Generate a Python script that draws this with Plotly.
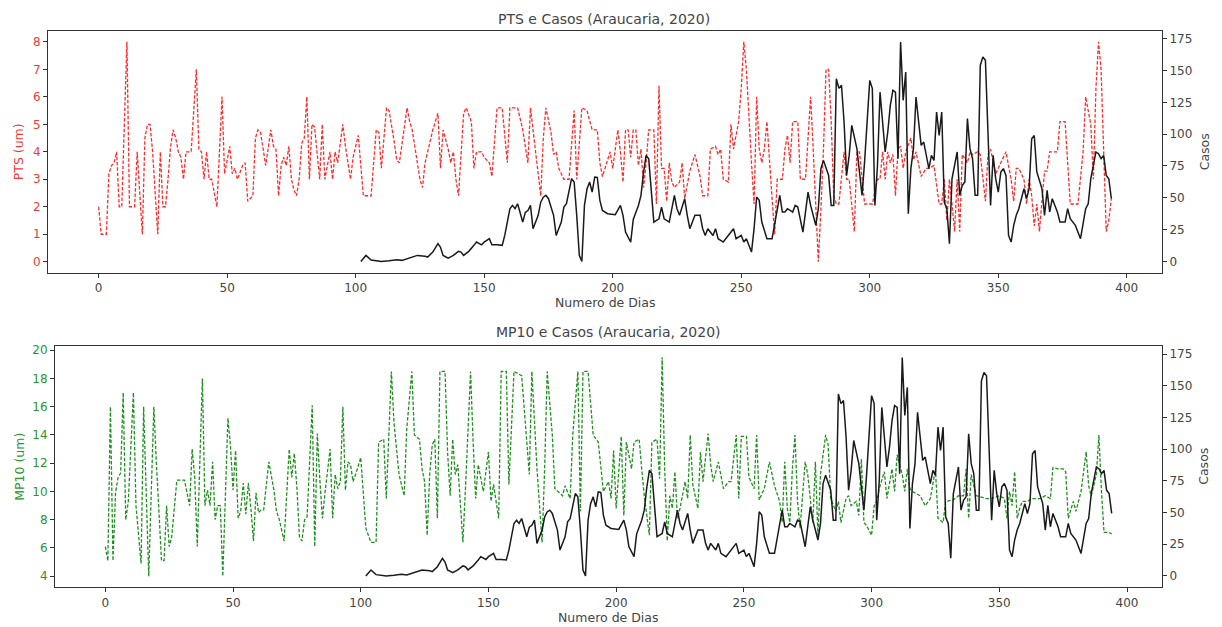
import plotly.graph_objects as go

# ---------------- data ----------------
pts_days = [0,1,3,4,5,6,7,8,9,11,
    12,14,15,17,18,19,20,21,23,24,
    25,26,27,28,29,30,31,32,33,34,
    36,38,39,40,41,42,43,44,46,48,
    49,51,52,53,54,56,57,58,60,61,
    62,63,65,67,68,69,70,71,72,73,
    74,75,76,77,78,79,80,81,82,83,
    84,86,87,88,90,91,92,93,95,96,
    98,99,101,103,106,108,109,110,112,113,
    115,116,117,120,121,122,124,125,126,127,
    128,130,132,133,134,136,137,138,139,140,
    142,143,145,146,147,149,150,152,153,155,
    157,159,160,163,165,167,168,169,171,172,
    173,174,176,177,178,179,181,183,185,186,
    188,190,192,194,195,196,197,199,200,202,
    203,204,205,206,207,208,209,210,211,212,
    213,214,216,217,218,219,220,221,222,223,
    224,226,227,228,230,231,232,234,235,237,
    238,240,241,242,243,245,246,247,249,250,
    251,252,253,254,255,256,257,258,259,260,
    262,263,264,266,267,268,269,270,272,273,
    275,277,278,279,280,281,282,283,284,285,
    286,287,288,290,291,292,294,295,296,298,
    301,303,304,305,306,307,308,309,310,311,
    312,313,314,316,317,318,319,320,322,323,
    325,327,328,329,330,331,332,333,334,335,
    336,338,339,340,342,343,345,346,347,349,
    351,353,354,355,356,357,358,360,361,362,
    363,364,365,366,368,369,370,371,373,374,
    375,376,378,379,381,383,384,386,387,388,
    389,390,391,392,393,394]
pts_vals = [2,1,1,3.2,3.5,3.6,4,2,2,8,
    2,2,4,1,4.5,5,5,4,1,4,
    2,2,3,4.2,4.8,4.5,4,3.8,3,4,
    4,7,4.1,4,3,4,3,3,2,6,
    3.2,4.2,3.2,3.4,3,3.5,3.6,2.2,2.4,4.5,
    4.8,4.7,3.5,4.8,4.2,4.1,2.4,3.5,3.8,3.5,
    4.2,3,2.6,2.4,3,4.3,4.5,6,3,5,
    4.9,3,5,3,4,3,4,3.6,5,4.2,
    3,3.8,4.6,2.4,2.4,4.8,4.7,3.4,5.6,5.5,
    4.35,3.7,3.6,5.6,5.1,4.8,3.6,3,2.7,3.6,
    4,4.8,5.4,3.4,4.8,4.1,3.6,4,3,2.4,
    5.4,5.6,5.1,3.4,4,4,3.8,3.6,3.1,5.6,
    5.6,3.6,5.6,5.6,4.8,3.6,5.6,4.8,3,2.4,
    4.5,5.6,4.7,3.9,4,3.4,3,3,5.5,3,
    5.6,5.5,4.8,4.8,3.6,3.1,3.4,4,3.4,4.8,
    4,2.9,4.8,4.8,3.8,4.8,4.8,3.5,4.1,2.7,
    3.6,4.8,4.8,2.1,6.4,3.4,3.4,2.2,3.6,2.9,
    2.7,2.9,3.6,2.3,3.3,3.6,3.9,3.1,2.4,2.4,
    4.1,4.2,3.9,4.1,3,2.9,5,4.1,5.1,6.3,
    8,7,5.1,3.6,2.1,6,4.1,3.6,4.1,5.1,
    2.3,1,3,3,4.1,4.6,3.6,5.1,5.1,3,
    3,6,4.1,2.3,0,1.9,4.1,7,7,5.1,
    2.4,2.1,2.1,4,3,3,1.1,4,4,2.1,
    2.1,3,3,4,3,4,3.6,3.9,2.4,4.1,
    4.2,3.4,4,4.5,3.7,4,3.5,3.1,3.4,3.4,
    3.5,2.1,2.1,3,1.5,3,2.1,1.1,3,1.1,
    3.9,3.6,4,3.9,4,3.9,2.2,3.9,4.1,3.2,
    3.6,4,3.5,3,2.2,3.4,3.4,3,2.1,3,
    2.4,1.3,2.1,1.1,3.3,3.3,4,4,4,5.1,
    5.1,5.1,2.1,2.1,2.1,4,6,5,3,6.3,
    8,7,3.6,1.1,1.5,2.3]

casos_days = [102,104,106,110,113,116,118,121,124,127,
    128,130,132,133,134,136,138,140,141,142,
    144,146,147,149,150,152,153,155,157,158,
    160,161,162,163,165,166,167,168,169,171,
    172,173,174,175,177,178,180,181,182,184,
    185,186,187,188,189,190,191,192,193,194,
    195,196,198,201,203,204,205,207,208,210,
    211,212,213,214,215,216,218,219,220,222,
    224,225,226,228,229,230,232,234,235,236,
    237,239,240,241,243,245,247,248,250,251,
    252,254,255,256,257,258,260,262,263,264,
    265,266,267,268,270,271,272,274,275,276,
    277,279,280,281,282,284,285,286,287,288,
    289,290,291,292,293,295,297,298,300,301,
    302,303,304,306,307,308,309,310,311,312,
    313,314,315,316,317,318,319,320,321,322,
    323,324,325,326,327,328,329,330,331,332,
    334,335,336,337,338,339,340,341,342,343,
    344,345,346,347,348,349,350,351,352,353,
    354,355,356,357,358,360,361,362,363,364,
    365,367,368,369,370,371,373,374,376,377,
    378,380,382,384,385,386,388,389,390,391,
    392,393,394]
casos_vals = [0,4.7,1,0,0.5,1.3,0.8,2.6,4.7,4,
    3.4,7.3,13.9,11,4.7,2.6,4.7,7.9,7.3,4.7,
    7.9,12.6,15.2,13,15.2,17.8,13,13,12.6,20.4,
    41.4,44,41.4,45.3,30.9,38.5,40,44,25.7,36.2,
    46.5,50.5,51.9,49.3,36.2,20.4,30.9,42.7,45.3,65,
    62.4,36.2,4.7,0,44,57,62.4,54.5,66.3,66,
    48,40,37.5,36.7,44,36.2,23,15.2,33,44,
    51.9,70,83.3,80.7,57,30.9,33.5,42.7,33.5,30.9,
    51.9,41.4,36.2,49.3,36.2,25.7,36.2,36.2,25.7,20.4,
    25.7,20.4,25.7,17.8,15.2,20.4,25.7,17.8,20.4,15.2,
    17.8,7.3,25.7,50.6,48,30.9,17.8,17.8,28.3,41.4,
    51.9,38.8,38.8,41.4,38.8,44,42.7,23,41.4,54.5,
    44,28.3,41.4,72.9,79.4,67.6,44,44,143.6,136,
    138.4,110,67.6,83.3,106.9,88.6,51.9,78.6,142.3,136,
    44,75,133,86,101.5,122.6,134.4,133,80.7,172.4,
    126.6,148.8,37.5,72.9,88.6,129.2,110,91.2,93.8,83.3,
    72.9,83.3,79.4,117.4,99,117.4,46.5,41.4,13.9,64.8,
    86,51.9,59.7,62.4,112.2,88.6,80.7,51.9,51.9,154,
    160.6,158,101.5,44,83.3,65,54.5,70.3,72.9,67.6,
    20.4,15.2,28.3,36.2,41.4,57.1,49.3,57.1,96.4,99,
    70.3,57.1,36.2,55.8,38.8,49.3,38.8,30.9,30.9,41.4,
    33.5,28.3,17.8,41.4,45.3,65,86,84.6,80.7,83.3,
    67.6,65,49.3]

mp10_days = [0,1,2,3,4,5,6,7,8,9,
    11,12,14,15,17,19,20,22,23,24,
    25,26,28,31,33,34,35,36,38,39,
    40,41,42,43,44,45,46,48,49,50,
    51,52,53,54,55,56,57,58,59,60,
    61,62,64,66,67,68,70,72,73,74,
    75,76,77,78,79,81,82,83,84,85,
    86,88,89,90,91,92,93,94,95,96,
    97,98,100,101,102,104,106,107,109,110,
    111,112,113,115,117,118,120,121,123,124,
    125,126,127,128,129,130,131,133,134,135,
    136,137,138,140,141,143,144,145,146,148,
    150,151,152,154,155,157,158,160,163,165,
    166,167,169,171,172,173,175,176,179,180,
    182,183,185,186,187,189,191,193,195,197,
    198,199,200,202,203,204,206,207,209,210,
    211,213,214,216,217,218,219,220,221,222,
    223,224,225,227,228,229,230,232,233,234,
    236,237,238,240,241,242,244,245,247,248,
    249,251,252,254,255,256,258,260,262,264,
    265,266,267,268,269,270,271,272,274,275,
    277,278,279,280,282,283,284,286,287,288,
    290,291,292,294,295,296,297,298,300,301,
    302,303,305,306,308,309,310,312,313,314,
    315,316,319,321,323,325,326,328,329,332,
    334,336,337,338,339,341,343,345,347,350,
    352,353,354,355,356,357,358,359,361,363,
    366,368,370,371,373,375,376,377,379,380,
    382,384,385,386,388,389,390,391,393,394]
mp10_vals = [6.1,5.1,16,5.1,9.9,11,11.3,17,8,9.3,
    17,9,4.9,16,4,16,12,5.1,5.1,9,
    6.1,6.8,10.8,10.8,9,13,11,6.1,18,9,
    10.1,9,12.1,8,9,9,4,15.2,13.2,10.1,
    12.9,8.1,8.6,10.6,8.4,10.6,8.8,6.5,9.9,8.5,
    8.7,8.7,12.1,10.1,8.6,8.1,6.5,13,11,12.7,
    10.3,6.8,6.5,8,8.2,16.1,6.1,14.1,10.8,8.1,
    9.9,13,8.1,11.2,10.2,10.7,16,10.1,12.1,11.9,
    10.7,11.2,12.4,10.2,7.4,6.4,6.4,13.5,13.7,9.5,
    13.7,18.5,14.9,11.2,9.7,14.4,18.5,14,13.7,11.6,
    10.7,6.9,11.2,13.3,13.7,8.1,18.5,18.5,12.8,9.7,
    13.7,11.2,11.9,6.4,10.2,18.5,13.5,9.5,11.9,10,
    12.8,9.3,10.5,8.1,18.5,18.5,10.5,18.5,18.2,13.5,
    11.2,18.5,11.6,6.4,11.6,18.5,14,10.2,9.7,10.4,
    9.5,14,18.5,8.6,18.5,18.5,14,13.5,10,10.7,
    9.5,12.9,8.8,13.9,8.3,13.5,11.6,13.5,13.7,11.6,
    9.7,6.9,13.5,13.7,10.9,19.5,11.6,6.5,9.7,8.8,
    11.4,8.1,8.8,10.7,9.5,14,10.5,8.8,12.8,10.7,
    14.1,11.9,10.7,12.1,11.2,10.2,10.7,10.7,14,9.5,
    13.9,13.9,11,10.2,14,9.4,10.2,12.1,10.4,9.3,
    7.8,12.1,8.8,7.8,11.6,14,9.3,7.4,12.1,11.2,
    7.8,12.1,6.9,11.2,14,13.3,9.5,8.6,9.3,7.8,
    9.5,9.7,9,9.3,8.3,12.3,7.8,7.6,6.9,9,
    9.3,10.2,11.4,9.5,11.6,10,12.6,11.2,10,11.6,
    10.2,10,9.7,9,9.5,11.6,8.1,7.8,9.3,9.4,
    9.7,9.7,11.6,8.1,11.2,9.7,9.6,9.5,9.5,9.7,
    9.5,8.1,10,9,11.4,8.1,8.8,9.3,9.3,9.5,
    9.5,9.7,9.5,11.7,11.6,11.6,11.4,8.1,9.3,8.6,
    10,12.8,10.4,9.7,11.2,14,10,7.1,7.1,7]

x_ticks = [0, 50, 100, 150, 200, 250, 300, 350, 400]
pts_ticks = [0, 1, 2, 3, 4, 5, 6, 7, 8]
mp10_ticks = [4, 6, 8, 10, 12, 14, 16, 18, 20]
casos_ticks = [0, 25, 50, 75, 100, 125, 150, 175]

assert len(pts_days) == len(pts_vals)
assert len(casos_days) == len(casos_vals)
assert len(mp10_days) == len(mp10_vals)

# ---------------- figure ----------------
W, H = 1222, 627
def px(x):
    return x / W
def py(y):
    return 1 - y / H

FONT = "DejaVu Sans"
TXT = "#444444"
RED = "#f03a3a"
GREEN = "#2c942c"
TICK = 12

fig = go.Figure()
fig.add_trace(go.Scatter(x=pts_days, y=pts_vals, mode="lines",
                         line=dict(color="#ff2a2a", width=1.3, dash="3.5px,1.8px"),
                         xaxis="x", yaxis="y", showlegend=False))
fig.add_trace(go.Scatter(x=casos_days, y=casos_vals, mode="lines",
                         line=dict(color="#1a1a1a", width=1.5),
                         xaxis="x", yaxis="y2", showlegend=False))
fig.add_trace(go.Scatter(x=mp10_days, y=mp10_vals, mode="lines",
                         line=dict(color="#1f8f1f", width=1.3, dash="3.5px,1.8px"),
                         xaxis="x2", yaxis="y3", showlegend=False))
fig.add_trace(go.Scatter(x=casos_days, y=casos_vals, mode="lines",
                         line=dict(color="#1a1a1a", width=1.5),
                         xaxis="x2", yaxis="y4", showlegend=False))

common = dict(showline=True, linecolor="#333333", linewidth=1, mirror=True,
              ticks="outside", ticklen=4, tickcolor="#333333", showgrid=False,
              zeroline=False, tickfont=dict(family=FONT, size=TICK, color=TXT))
right = {k: v for k, v in common.items() if k != "mirror"}
xr = [-19.7, 413.7]
cr = [-8.9, 181.2]

fig.update_layout(
    width=W, height=H, margin=dict(l=0, r=0, t=0, b=0),
    paper_bgcolor="white", plot_bgcolor="white",
    xaxis=dict(domain=[px(48), px(1162)], anchor="y", range=xr, tickvals=x_ticks, **common),
    yaxis=dict(domain=[py(271), py(28)], anchor="x", range=[-0.4, 8.4], tickvals=pts_ticks,
               **{**common, "tickfont": dict(family=FONT, size=TICK, color=RED)}),
    yaxis2=dict(overlaying="y", side="right", anchor="x", range=cr, tickvals=casos_ticks, **right),
    xaxis2=dict(domain=[px(55), px(1162)], anchor="y3", range=xr, tickvals=x_ticks, **common),
    yaxis3=dict(domain=[py(587), py(345)], anchor="x2", range=[3.225, 20.275], tickvals=mp10_ticks,
                **{**common, "tickfont": dict(family=FONT, size=TICK, color=GREEN)}),
    yaxis4=dict(overlaying="y3", side="right", anchor="x2", range=cr, tickvals=casos_ticks, **right),
)

ann = [
    dict(text="PTS e Casos (Araucaria, 2020)", x=px(604), y=py(16), size=14, color=TXT, angle=0),
    dict(text="MP10 e Casos (Araucaria, 2020)", x=px(608), y=py(331), size=14, color=TXT, angle=0),
    dict(text="Numero de Dias", x=px(605), y=py(301), size=12.5, color=TXT, angle=0),
    dict(text="Numero de Dias", x=px(608), y=py(617), size=12.5, color=TXT, angle=0),
    dict(text="PTS (um)", x=px(18), y=py(150), size=12.5, color=RED, angle=-90),
    dict(text="MP10 (um)", x=px(20), y=py(466), size=12.5, color=GREEN, angle=-90),
    dict(text="Casos", x=px(1204), y=py(150), size=12.5, color=TXT, angle=-90),
    dict(text="Casos", x=px(1204), y=py(466), size=12.5, color=TXT, angle=-90),
]
for a in ann:
    fig.add_annotation(text=a["text"], x=a["x"], y=a["y"], xref="paper", yref="paper",
                       showarrow=False, textangle=a["angle"], xanchor="center", yanchor="middle",
                       font=dict(family=FONT, size=a["size"], color=a["color"]))

fig.write_html("out.html")
